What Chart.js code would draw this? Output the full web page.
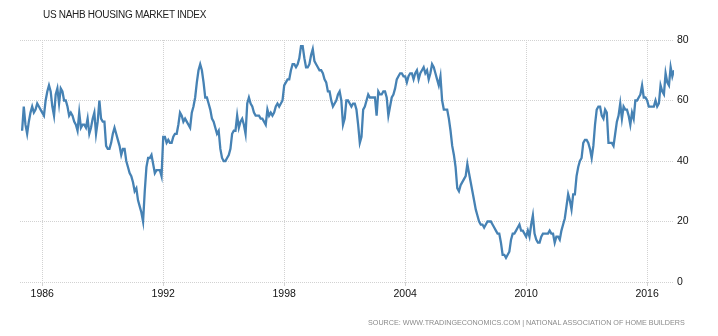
<!DOCTYPE html>
<html>
<head>
<meta charset="utf-8">
<script src="https://cdn.jsdelivr.net/npm/chart.js@4/dist/chart.umd.min.js"></script>
<style>
  body { margin: 0; background: #fff; }
  #wrap { position: relative; width: 718px; height: 336px; font-family: "Liberation Sans", Arial, sans-serif; }
  #title { position: absolute; left: 43px; top: 9px; font-size: 10px; line-height: 12px; color: #222; letter-spacing: -0.3px; white-space: nowrap; }
  #source { position: absolute; left: 368px; top: 318px; font-size: 7.2px; line-height: 10px; color: #8a8a8a; white-space: nowrap; }
  canvas { position: absolute; left: 0; top: 0; }
</style>
</head>
<body>
<div id="wrap">
  <canvas id="chart" width="718" height="336"></canvas>
  <div id="title">US NAHB HOUSING MARKET INDEX</div>
  <div id="source">SOURCE: WWW.TRADINGECONOMICS.COM | NATIONAL ASSOCIATION OF HOME BUILDERS</div>
</div>
<script>
// monthly readings, Jan 1985 .. May 2017
const startYear = 1985;
const hmi = [
  50, 58, 52, 49, 53, 56, 58, 56, 57, 59, 58, 57,   // 1985
  56, 55, 60, 63, 65, 63, 58, 55, 62, 64, 59, 64,   // 1986
  63, 60, 60, 58, 55, 56, 55, 53, 52, 50, 56, 51,   // 1987
  52, 52, 51, 54, 49, 51, 54, 56, 49, 53, 60, 54,   // 1988
  53, 53, 45, 44, 44, 46, 49, 51, 49, 47, 45, 42,   // 1989
  44, 44, 40, 38, 36, 35, 33, 30, 31, 27, 25, 23,   // 1990
  20, 30, 38, 41, 41, 42, 39, 36, 37, 37, 37, 35,   // 1991
  48, 48, 46, 47, 46, 46, 48, 49, 49, 52, 56, 55,   // 1992
  53, 54, 53, 52, 51, 56, 58, 61, 66, 70, 72, 70,   // 1993
  66, 61, 61, 59, 57, 54, 53, 51, 49, 50, 44, 41,   // 1994
  40, 40, 41, 42, 44, 49, 50, 50, 55, 51, 53, 54,   // 1995
  52, 49, 59, 61, 59, 58, 56, 55, 55, 55, 54, 54,   // 1996
  53, 52, 57, 55, 56, 55, 56, 58, 59, 58, 59, 60,   // 1997
  65, 66, 67, 67, 70, 72, 72, 71, 72, 74, 78, 78,   // 1998
  74, 71, 71, 72, 75, 77, 73, 72, 71, 70, 70, 69,   // 1999
  67, 66, 63, 63, 60, 58, 59, 60, 62, 63, 60, 52,   // 2000
  54, 60, 60, 59, 58, 59, 59, 57, 52, 46, 48, 57,   // 2001
  58, 60, 62, 61, 61, 61, 61, 55, 63, 62, 62, 63,   // 2002
  63, 61, 55, 58, 61, 62, 64, 67, 68, 69, 69, 68,   // 2003
  68, 66, 68, 69, 69, 67, 69, 70, 67, 69, 70, 71,   // 2004
  69, 70, 67, 69, 72, 71, 69, 67, 65, 68, 60, 57,   // 2005
  57, 57, 54, 50, 45, 42, 38, 31, 30, 32, 33, 34,   // 2006
  35, 39, 36, 33, 30, 27, 24, 22, 20, 19, 19, 18,   // 2007
  19, 20, 20, 20, 19, 18, 17, 16, 16, 13, 9, 9,     // 2008
  8, 9, 10, 14, 16, 16, 17, 18, 19, 17, 17, 16,     // 2009
  15, 17, 15, 19, 22, 16, 14, 13, 13, 15, 16, 16,   // 2010
  16, 16, 17, 16, 16, 13, 15, 15, 14, 17, 19, 21,   // 2011
  25, 29, 27, 24, 29, 29, 35, 38, 40, 41, 46, 47,   // 2012
  47, 46, 44, 41, 45, 52, 57, 58, 58, 55, 54, 57,   // 2013
  56, 46, 46, 46, 45, 49, 53, 55, 59, 54, 58, 57,   // 2014
  57, 55, 52, 56, 54, 60, 60, 61, 62, 65, 61, 61,   // 2015
  60, 58, 58, 58, 58, 60, 58, 59, 65, 63, 62, 69,   // 2016
  66, 65, 71, 68, 70                                // 2017
];
const tickYears = [1986, 1992, 1998, 2004, 2010, 2016];
const yTicks = [0, 20, 40, 60, 80];

const points = hmi.map((v, i) => ({ x: i, y: v }));
const gridColor = "#d2d2d2";

new Chart(document.getElementById("chart"), {
  type: "line",
  data: {
    datasets: [{
      label: "US NAHB Housing Market Index",
      data: points,
      borderColor: "#4682b4",
      borderWidth: 2.3,
      pointRadius: 0,
      tension: 0,
      fill: false
    }]
  },
  options: {
    responsive: false,
    animation: false,
    devicePixelRatio: 1,
    layout: { padding: { left: 20, top: 40, right: 0, bottom: 0 } },
    plugins: {
      legend: { display: false },
      tooltip: { enabled: false }
    },
    scales: {
      x: {
        type: "linear",
        min: -1.25,
        max: hmi.length - 1,
        afterBuildTicks: s => { s.ticks = tickYears.map(y => ({ value: (y - startYear) * 12 })); },
        afterFit: s => { s.height = 54; },
        grid: { color: gridColor, tickLength: 4, drawTicks: true },
        border: { display: false, dash: [1, 1] },
        ticks: {
          autoSkip: false,
          maxRotation: 0,
          padding: 2,
          color: "#111",
          font: { family: "Liberation Sans", size: 10.5 },
          callback: v => String(startYear + v / 12)
        }
      },
      y: {
        position: "right",
        min: 0,
        max: 80,
        afterBuildTicks: s => { s.ticks = yTicks.map(v => ({ value: v })); },
        afterFit: s => { s.width = 44; },
        grid: { color: gridColor, drawTicks: false },
        border: { display: false, dash: [1, 1] },
        ticks: {
          padding: 3,
          color: "#111",
          font: { family: "Liberation Sans", size: 10.5 }
        }
      }
    }
  }
});
</script>
</body>
</html>
